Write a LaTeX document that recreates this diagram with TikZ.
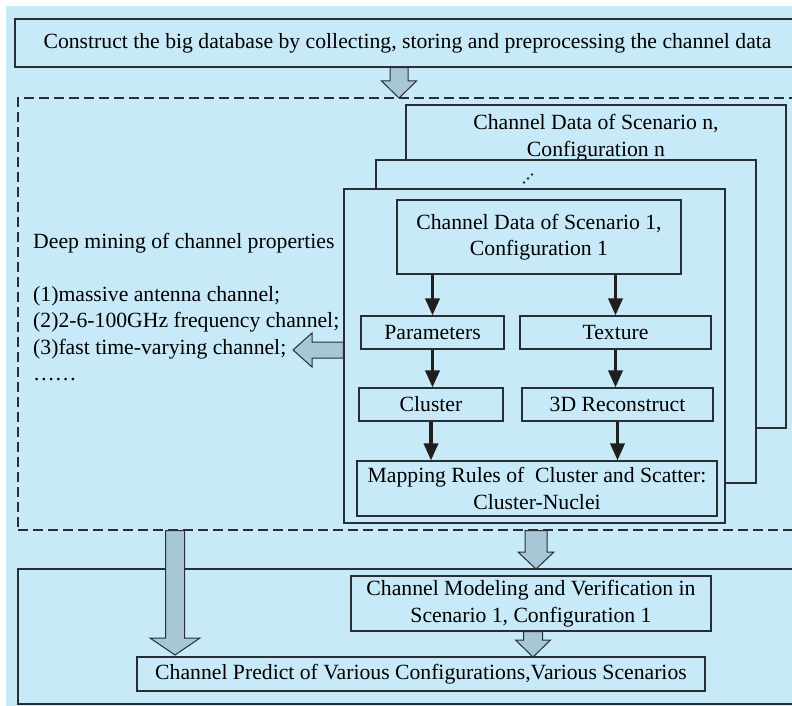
\documentclass[tikz,border=0pt]{standalone}
\usepackage{fontspec}
\setmainfont{Liberation Serif}
\usepackage{tikz}
\usetikzlibrary{arrows.meta,positioning,calc}
\definecolor{bgblue}{RGB}{200,233,248}
\definecolor{arrowfill}{RGB}{168,199,214}
\definecolor{edge}{RGB}{40,46,52}
\newcommand{\boxfont}{\fontsize{21.7}{26.5}\selectfont}
\tikzset{
  box/.style={draw=edge,line width=1.1pt,fill=bgblue,align=center,inner sep=0pt,font=\boxfont},
  stack/.style={box,line width=1.3pt},
  dashbox/.style={draw=edge,line width=1.1pt,dash pattern=on 10pt off 5pt,inner sep=0pt},
  lbl/.style={align=center,inner sep=0pt,font=\boxfont},
  flow/.style={-{Triangle[length=17pt,width=14pt]},line width=3.5pt,draw=black!88},
  fatarrow/.style={draw=edge,fill=arrowfill,line width=1pt,line join=miter},
}
% hollow block arrows: #1 start, #2 tip, #3 half shaft, #4 half head
\newcommand{\fatdown}[4]{%
  \path[fatarrow] let \p1=(#1), \p2=(#2) in
    (\x2-#3,\y1) -- (\x2+#3,\y1) -- (\x2+#3,\y2+17pt) -- (\x2+#4,\y2+17pt)
    -- (\x2,\y2) -- (\x2-#4,\y2+17pt) -- (\x2-#3,\y2+17pt) -- cycle;}
\newcommand{\fatleft}[4]{%
  \path[fatarrow] let \p1=(#1), \p2=(#2) in
    (\x1,\y2+#3) -- (\x2+19pt,\y2+#3) -- (\x2+19pt,\y2+#4) -- (\x2,\y2)
    -- (\x2+19pt,\y2-#4) -- (\x2+19pt,\y2-#3) -- (\x1,\y2-#3) -- cycle;}

\begin{document}
\begin{tikzpicture}[x=1pt,y=-1pt,font=\boxfont]
  \useasboundingbox (0,0) rectangle (792,706);
  \clip (0,0) rectangle (792,706);
  \fill[bgblue] (6,6) rectangle (800,712);

  % ---------------- database ----------------
  \node[box,minimum width=785pt,minimum height=48pt] (dbbox) at (407.5,43)
    {Construct the big database by collecting, storing and preprocessing the channel data};

  % ---------------- mining region ----------------
  \node[dashbox,minimum width=782pt,minimum height=432pt] (minebox) at (409,314) {};
  \coordinate (tipA) at (399,98);
  \fatdown{dbbox.south}{tipA}{9pt}{17.5pt}

  \node[stack,minimum width=380pt,minimum height=323pt] (scenn) at (596,266.5) {};
  \node[lbl,below=10pt of scenn.north] (scenntxt) {Channel Data of Scenario n,\\Configuration n};
  \node[stack,minimum width=380pt,minimum height=323pt] (scenmid) at (566,321.5) {};
  \coordinate (dots) at (528,178.5);
  \foreach \d in {-1,0,1}
    \fill[edge] ($(dots)+(\d*4,-\d*4)$) circle (1.3pt);
  \node[stack,minimum width=381pt,minimum height=334pt] (scenone) at (534.5,356) {};

  \node[box,minimum width=284pt,minimum height=74pt] (dataone) at (539,237)
    {Channel Data of Scenario 1,\\Configuration 1};
  \node[box,minimum width=143pt,minimum height=33pt] (params) at (432.5,332.5) {Parameters};
  \node[box,minimum width=191pt,minimum height=33pt] (texture) at (615.5,332.5) {Texture};
  \node[box,minimum width=144pt,minimum height=33pt] (cluster) at (431,404.5) {Cluster};
  \node[box,minimum width=191pt,minimum height=33pt] (recon) at (617.5,404.5) {3D Reconstruct};
  \node[box,minimum width=360pt,minimum height=55pt] (mapping) at (537,488.5)
    {Mapping Rules of~ Cluster and Scatter:\\Cluster-Nuclei};

  \draw[flow] (dataone.south -| params) -- (params.north);
  \draw[flow] (dataone.south -| texture) -- (texture.north);
  \draw[flow] (params.south) -- (params.south |- cluster.north);
  \draw[flow] (texture.south) -- (texture.south |- recon.north);
  \draw[flow] (cluster.south) -- (cluster.south |- mapping.north);
  \draw[flow] (recon.south) -- (recon.south |- mapping.north);

  \node[lbl,align=left,anchor=north west] (mining) at (33,233)
    {Deep mining of channel properties\\[26.5pt]
     (1)massive antenna channel;\\
     (2)2-6-100GHz frequency channel;\\
     (3)fast time-varying channel;\\
     ……};
  \coordinate (tipB) at (293,350);
  \fatleft{scenone.west}{tipB}{8pt}{17pt}

  % ---------------- modeling and prediction ----------------
  \node[box,minimum width=782pt,minimum height=135pt] (botbox) at (409,636.5) {};
  \node[box,minimum width=360pt,minimum height=55pt] (modeling) at (531,603.5)
    {Channel Modeling and Verification in\\Scenario 1, Configuration 1};
  \node[box,minimum width=568pt,minimum height=34pt] (predict) at (421,674)
    {Channel Predict of Various Configurations,Various Scenarios};

  \coordinate (tipC) at (536,569);
  \coordinate (tipD) at (175,655);
  \coordinate (tipE) at (533,657);
  \fatdown{minebox.south}{tipC}{11pt}{18pt}
  \fatdown{minebox.south}{tipD}{9.5pt}{25pt}
  \fatdown{modeling.south}{tipE}{9.5pt}{17.5pt}
\end{tikzpicture}
\end{document}
